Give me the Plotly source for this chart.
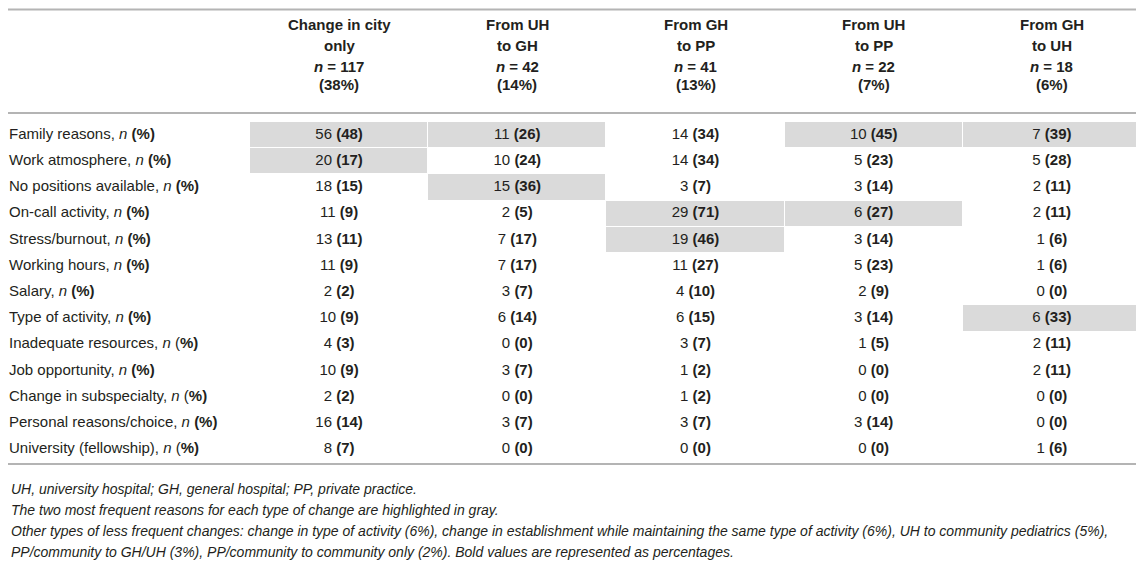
import plotly.graph_objects as go

# ---- data ----
reasons = ["Family reasons", "Work atmosphere", "No positions available",
           "On-call activity", "Stress/burnout", "Working hours", "Salary",
           "Type of activity", "Inadequate resources", "Job opportunity",
           "Change in subspecialty", "Personal reasons/choice",
           "University (fellowship)"]

group_line1 = ["Change in city", "From UH", "From GH", "From UH", "From GH"]
group_line2 = ["only", "to GH", "to PP", "to PP", "to UH"]
group_n = [117, 42, 41, 22, 18]
group_pct = [38, 14, 13, 7, 6]

n_city = [56, 20, 18, 11, 13, 11, 2, 10, 4, 10, 2, 16, 8]
pct_city = [48, 17, 15, 9, 11, 9, 2, 9, 3, 9, 2, 14, 7]
n_uh_gh = [11, 10, 15, 2, 7, 7, 3, 6, 0, 3, 0, 3, 0]
pct_uh_gh = [26, 24, 36, 5, 17, 17, 7, 14, 0, 7, 0, 7, 0]
n_gh_pp = [14, 14, 3, 29, 19, 11, 4, 6, 3, 1, 1, 3, 0]
pct_gh_pp = [34, 34, 7, 71, 46, 27, 10, 15, 7, 2, 2, 7, 0]
n_uh_pp = [10, 5, 3, 6, 3, 5, 2, 3, 1, 0, 0, 3, 0]
pct_uh_pp = [45, 23, 14, 27, 14, 23, 9, 14, 5, 0, 0, 14, 0]
n_gh_uh = [7, 5, 2, 2, 1, 1, 0, 6, 2, 2, 0, 0, 1]
pct_gh_uh = [39, 28, 11, 11, 6, 6, 0, 33, 11, 11, 0, 0, 6]

# rows whose "(%)" label has a regular opening parenthesis
plain_paren_rows = ["Inadequate resources", "Change in subspecialty",
                    "University (fellowship)"]

footnotes = [
    "UH, university hospital; GH, general hospital; PP, private practice.",
    "The two most frequent reasons for each type of change are highlighted in gray.",
    "Other types of less frequent changes: change in type of activity (6%), change in establishment while maintaining the same type of activity (6%), UH to community pediatrics (5%),",
    "PP/community to GH/UH (3%), PP/community to community only (2%). Bold values are represented as percentages.",
]

counts = [n_city, n_uh_gh, n_gh_pp, n_uh_pp, n_gh_uh]
pcts = [pct_city, pct_uh_gh, pct_gh_pp, pct_uh_pp, pct_gh_uh]

# ---- layout (page pixel units; the page body has an 8px margin) ----
W, H = 1144, 561
PAD = 8
LEFT = PAD + 1          # nothing can be drawn inside the body margin
col_edges = [250, 428.2, 606.4, 784.6, 962.8, 1141]
col_mid = [(a + b) / 2 for a, b in zip(col_edges[:-1], col_edges[1:])]
ROW_TOP, ROW_H = 122, 26.2
row_edges = [ROW_TOP + i * ROW_H for i in range(len(reasons) + 1)]
row_mid = [ROW_TOP + (i + 0.5) * ROW_H for i in range(len(reasons))]
FONT = "Liberation Sans, Arial, sans-serif"
TXT = "#231f20"
GRAY = "#dadada"
RULE = "#b4b4b4"

# highlight the two most frequent reasons per column
z = [[None] * len(counts) for _ in reasons]
for c, col in enumerate(counts):
    top = sorted(range(len(col)), key=lambda i: -col[i])[:2]
    for r in top:
        z[r][c] = 1

fig = go.Figure()
fig.add_trace(go.Heatmap(
    z=z, x=col_edges, y=row_edges,
    colorscale=[[0, GRAY], [1, GRAY]], showscale=False,
    xgap=1, ygap=1, hoverinfo="skip"))

# row labels
labels = []
for r in reasons:
    if r in plain_paren_rows:
        labels.append(f"{r}, <i>n</i> (<b>%)</b>")
    else:
        labels.append(f"{r}, <i>n</i> <b>(%)</b>")
fig.add_trace(go.Scatter(
    x=[LEFT] * len(reasons), y=row_mid, mode="text", text=labels,
    textposition="middle right", hoverinfo="skip", cliponaxis=False,
    textfont=dict(family=FONT, size=15, color=TXT)))

# cell values
for c in range(len(counts)):
    fig.add_trace(go.Scatter(
        x=[col_mid[c]] * len(reasons), y=row_mid, mode="text",
        text=[f"{n} <b>({p})</b>" for n, p in zip(counts[c], pcts[c])],
        textposition="middle center", hoverinfo="skip",
        textfont=dict(family=FONT, size=15, color=TXT)))

# column headers
for c in range(len(counts)):
    for y, t in [(24, f"<b>{group_line1[c]}</b>"),
                 (45, f"<b>{group_line2[c]}</b>"),
                 (66, f"<b><i>n</i> = {group_n[c]}</b>"),
                 (84, f"<b>({group_pct[c]}%)</b>")]:
        fig.add_annotation(x=col_mid[c], y=y, xref="x", yref="y", text=t,
                           showarrow=False, xanchor="center", yanchor="middle",
                           font=dict(family=FONT, size=15, color=TXT))

# footnotes
for i, t in enumerate(footnotes):
    fig.add_annotation(x=LEFT, y=489 + i * 21, xref="x", yref="y",
                       text=f"<i>{t}</i>", showarrow=False,
                       xanchor="left", yanchor="middle",
                       font=dict(family=FONT, size=14, color=TXT))

# horizontal rules
for y in [PAD + 1.5, 113, 464]:
    fig.add_shape(type="line", x0=PAD, x1=1140, y0=y, y1=y, xref="x", yref="y",
                  line=dict(color=RULE, width=2))

fig.update_layout(
    width=W - PAD, height=H - PAD, margin=dict(l=0, r=0, t=0, b=0),
    paper_bgcolor="white", plot_bgcolor="white", showlegend=False,
    xaxis=dict(range=[PAD, W], visible=False, fixedrange=True),
    yaxis=dict(range=[H, PAD], visible=False, fixedrange=True),
)

fig.write_html("out.html")
